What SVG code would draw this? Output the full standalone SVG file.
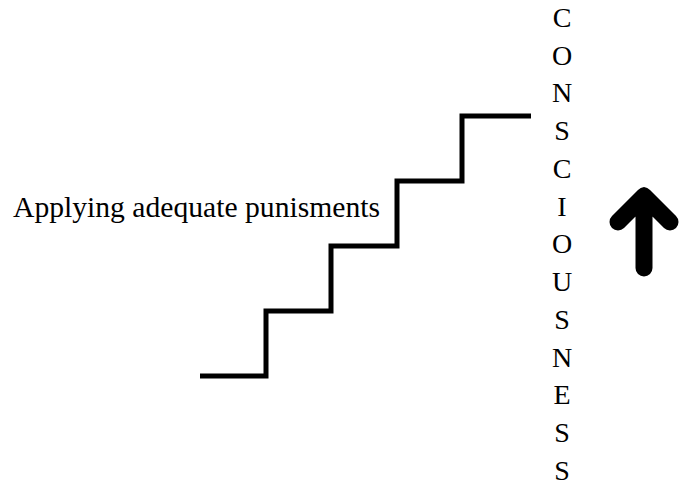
<svg xmlns="http://www.w3.org/2000/svg" width="680" height="488" viewBox="0 0 680 488">
<style>
.t{font-family:'Liberation Serif','Times New Roman',Times,serif;fill:#000;}
.l{font-size:28px;text-anchor:middle;}
.stair{fill:none;stroke:#000;stroke-width:5;stroke-linejoin:miter;}
.arr{fill:none;stroke:#000;stroke-width:17;stroke-linecap:round;stroke-linejoin:round;}
</style>
<rect width="680" height="488" fill="#fff"/>
<g id="label" font-family="Liberation Serif, Times New Roman, serif">
<text class="t" x="13" y="217" font-size="29" textLength="367" lengthAdjust="spacingAndGlyphs">Applying adequate punisments</text>
</g>
<g id="stairs">
<polyline class="stair" points="200,376 266,376 266,311 331,311 331,246 397,246 397,181 462,181 462,116 531,116"/>
</g>
<g id="word" font-family="Liberation Serif, Times New Roman, serif">
<text class="t l" x="562" y="27">C</text>
<text class="t l" x="562" y="65">O</text>
<text class="t l" x="562" y="102">N</text>
<text class="t l" x="562" y="140">S</text>
<text class="t l" x="562" y="178">C</text>
<text class="t l" x="562" y="216">I</text>
<text class="t l" x="562" y="253">O</text>
<text class="t l" x="562" y="291">U</text>
<text class="t l" x="562" y="329">S</text>
<text class="t l" x="562" y="367">N</text>
<text class="t l" x="562" y="404">E</text>
<text class="t l" x="562" y="442">S</text>
<text class="t l" x="562" y="480">S</text>
</g>
<g id="arrow">
<path class="arr" d="M644,268 L644,196 M618,222 L644,196 L670,222"/>
</g>
</svg>
